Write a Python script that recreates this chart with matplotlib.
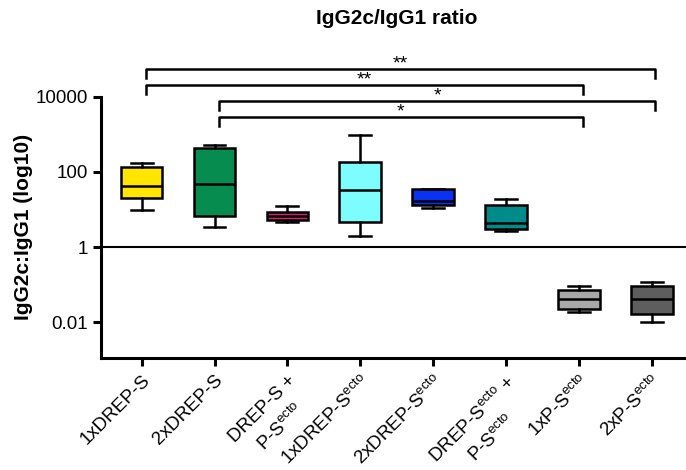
import numpy as np
import matplotlib
matplotlib.use("Agg")
import matplotlib.pyplot as plt

plt.rcParams['font.family'] = ['Liberation Sans', 'DejaVu Sans']
plt.rcParams['mathtext.fontset'] = 'custom'
plt.rcParams['mathtext.rm'] = 'Liberation Sans'
plt.rcParams['mathtext.it'] = 'Liberation Sans:italic'

# groups and box statistics
labels = ['1xDREP-S', '2xDREP-S', 'DREP-S +\nP-S$^{\\mathrm{ecto}}$',
          '1xDREP-S$^{\\mathrm{ecto}}$', '2xDREP-S$^{\\mathrm{ecto}}$',
          'DREP-S$^{\\mathrm{ecto}}$ +\nP-S$^{\\mathrm{ecto}}$',
          '1xP-S$^{\\mathrm{ecto}}$', '2xP-S$^{\\mathrm{ecto}}$']
whislo = [9.7, 3.5, 4.7, 2.0, 10.7, 2.6, 0.0185, 0.0102]
q1 = [20.6, 6.5, 5.2, 4.7, 13.2, 3.0, 0.022, 0.016]
med = [42, 48, 6.8, 33, 17.2, 4.3, 0.041, 0.041]
q3 = [138, 427, 8.7, 182, 35, 13.2, 0.071, 0.091]
whishi = [170, 525, 12.4, 970, 35, 19, 0.093, 0.115]
colors = ['#FFE500', '#068C4E', '#D4246E', '#7DFDFD', '#0A32F5',
          '#008B8B', '#A8A8A8', '#5E5E5E']

# significance: (group a, group b, stars)
comparisons = [(1, 8, '**'), (1, 7, '**'), (2, 8, '*'), (2, 7, '*')]

stats = []
for i in range(len(labels)):
    stats.append(dict(whislo=whislo[i], q1=q1[i], med=med[i], q3=q3[i],
                      whishi=whishi[i], fliers=[]))

fig = plt.figure(figsize=(6.86, 4.70), dpi=100)
ax = fig.add_axes([0.147, 0.238, 0.853, 0.556])

pos = np.arange(1, len(labels) + 1)
bp = ax.bxp(stats, positions=pos, widths=0.57, capwidths=0.3,
            patch_artist=True, showfliers=False,
            boxprops=dict(linewidth=1.8, edgecolor='black'),
            whiskerprops=dict(linewidth=1.8, color='black'),
            capprops=dict(linewidth=1.8, color='black'),
            medianprops=dict(linewidth=1.8, color='black'))
for patch, c in zip(bp['boxes'], colors):
    patch.set_facecolor(c)

ax.set_yscale('log')
ax.set_ylim(10**-2.96, 1e4)
ax.set_xlim(0.44, 8.47)
ax.minorticks_off()
ax.set_yticks([0.01, 1, 100, 10000])
ax.set_yticklabels(['0.01', '1', '100', '10000'], fontsize=13.5)
ax.set_xticks(pos)
ax.set_xticklabels(labels, fontsize=13.5, rotation=45, ha='right',
                   rotation_mode='anchor', multialignment='center',
                   linespacing=1.5)
ax.tick_params(axis='both', width=2.2, length=6, direction='out')
ax.tick_params(axis='x', pad=4)

ax.axhline(1, color='black', lw=1.5)

for s in ['top', 'right']:
    ax.spines[s].set_visible(False)
ax.spines['left'].set_linewidth(2.2)
ax.spines['bottom'].set_linewidth(2.2)

# brackets
level = 4.75
for a, b, star in comparisons:
    xa, xb = a + 0.06, b + 0.05
    ytop = 10**level
    ydrop = 10**(level - 0.25)
    ax.plot([xa, xa, xb, xb], [ydrop, ytop, ytop, ydrop], color='black',
            lw=1.8, clip_on=False)
    ax.annotate(star, xy=((xa + xb) / 2, ytop), xytext=(0, 0),
                textcoords='offset points', ha='center', va='baseline',
                fontsize=14, annotation_clip=False)
    level -= 0.425

fig.text(0.579, 1 - 18 / 470, 'IgG2c/IgG1 ratio', ha='center', va='center',
         fontsize=15, fontweight='bold')
fig.text(24 / 686, 1 - 227 / 470, 'IgG2c:IgG1 (log10)', ha='center',
         va='center', rotation=90, fontsize=15, fontweight='bold')

fig.savefig('out.png', dpi=100)
